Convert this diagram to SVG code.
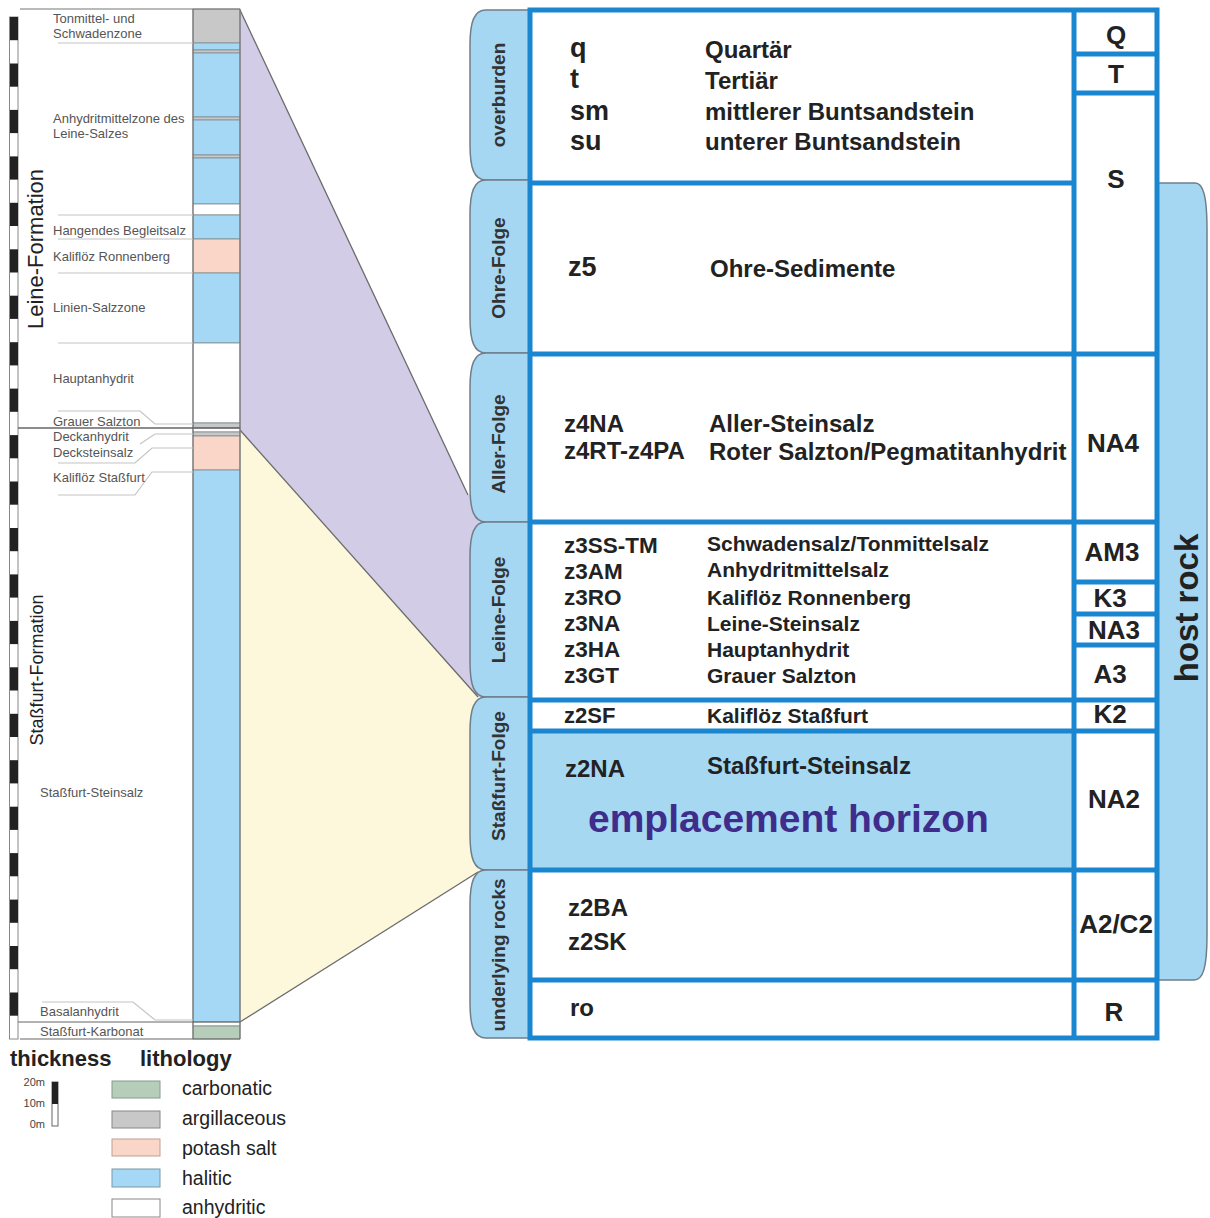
<svg xmlns="http://www.w3.org/2000/svg" width="1210" height="1218" viewBox="0 0 1210 1218">
<style>
.lbl{font-family:"Liberation Sans",Arial,sans-serif;font-size:13px;fill:#555}
.b{font-family:"Liberation Sans",Arial,sans-serif;font-weight:bold;fill:#222}
.tab{fill:#a5d7f2;stroke:#6f7f8a;stroke-width:1.5}
.tabt{font-family:"Liberation Sans",Arial,sans-serif;font-weight:bold;font-size:19px;fill:#333;text-anchor:middle}
.fr{stroke:#1a86d0;stroke-width:5;fill:none}
.guide{stroke:#c4c4c4;stroke-width:1.2;fill:none}
.lay{stroke:#808a90;stroke-width:0.8}
.hal{fill:#a5d8f5}.pot{fill:#f9d6c8}.arg{fill:#c8c8c8}.carb{fill:#b5cdb9}.anh{fill:#ffffff}
.leg{font-family:"Liberation Sans",Arial,sans-serif;font-size:19.5px;fill:#222}
.rc{font-family:"Liberation Sans",Arial,sans-serif;font-weight:bold;font-size:26px;fill:#222;text-anchor:middle}
</style>
<rect width="1210" height="1218" fill="#fff"/>

<!-- connectors (fans) -->
<g id="connectors">
  <polygon points="240,10 468,495 500,495 500,697 478,697 240,430" fill="#d2cce6" stroke="none"/>
  <polygon points="240,430 478,697 500,697 500,870 478,872 240,1022" fill="#fdf8dc" stroke="none"/>
  <polyline points="240,10 468,495" fill="none" stroke="#6b6b6b" stroke-width="1.3"/>
  <polyline points="240,430 478,697" fill="none" stroke="#6b6b6b" stroke-width="1.3"/>
  <polyline points="240,1022 478,872" fill="none" stroke="#6b6b6b" stroke-width="1.3"/>
</g>

<!-- scale bar -->
<g id="scale-bar">
  <rect x="9.5" y="17" width="8.5" height="1022" fill="#fff" stroke="#888" stroke-width="1"/>
  <g fill="#222">
    <rect x="10" y="17" width="8" height="23.2"/><rect x="10" y="63.5" width="8" height="23.2"/>
    <rect x="10" y="109.9" width="8" height="23.2"/><rect x="10" y="156.4" width="8" height="23.2"/>
    <rect x="10" y="202.8" width="8" height="23.2"/><rect x="10" y="249.3" width="8" height="23.2"/>
    <rect x="10" y="295.7" width="8" height="23.2"/><rect x="10" y="342.2" width="8" height="23.2"/>
    <rect x="10" y="388.6" width="8" height="23.2"/><rect x="10" y="435.1" width="8" height="23.2"/>
    <rect x="10" y="481.5" width="8" height="23.2"/><rect x="10" y="528" width="8" height="23.2"/>
    <rect x="10" y="574.4" width="8" height="23.2"/><rect x="10" y="620.9" width="8" height="23.2"/>
    <rect x="10" y="667.3" width="8" height="23.2"/><rect x="10" y="713.8" width="8" height="23.2"/>
    <rect x="10" y="760.2" width="8" height="23.2"/><rect x="10" y="806.7" width="8" height="23.2"/>
    <rect x="10" y="853.1" width="8" height="23.2"/><rect x="10" y="899.6" width="8" height="23.2"/>
    <rect x="10" y="946" width="8" height="23.2"/><rect x="10" y="992.5" width="8" height="23.2"/>
  </g>
</g>

<!-- lithology column -->
<g id="lithology-column">
  <rect class="arg lay" x="193" y="9" width="47" height="34"/>
  <rect class="hal lay" x="193" y="43" width="47" height="7"/>
  <rect class="arg lay" x="193" y="50" width="47" height="3"/>
  <rect class="hal lay" x="193" y="53" width="47" height="64"/>
  <rect class="arg lay" x="193" y="117" width="47" height="3"/>
  <rect class="hal lay" x="193" y="120" width="47" height="35"/>
  <rect class="arg lay" x="193" y="155" width="47" height="3"/>
  <rect class="hal lay" x="193" y="158" width="47" height="46"/>
  <rect class="anh lay" x="193" y="204" width="47" height="11"/>
  <rect class="hal lay" x="193" y="215" width="47" height="24"/>
  <rect class="pot lay" x="193" y="239" width="47" height="34"/>
  <rect class="hal lay" x="193" y="273" width="47" height="70"/>
  <rect class="anh lay" x="193" y="343" width="47" height="80"/>
  <rect class="arg lay" x="193" y="423" width="47" height="5"/>
  <rect class="anh lay" x="193" y="428" width="47" height="4"/>
  <rect class="arg lay" x="193" y="432" width="47" height="4"/>
  <rect class="pot lay" x="193" y="436" width="47" height="34"/>
  <rect class="hal lay" x="193" y="470" width="47" height="552"/>
  <rect class="anh lay" x="193" y="1022" width="47" height="4"/>
  <rect class="carb lay" x="193" y="1026" width="47" height="13"/>
  <line x1="193" y1="9" x2="193" y2="1039" stroke="#777" stroke-width="1.2"/>
  <line x1="240" y1="9" x2="240" y2="1039" stroke="#777" stroke-width="1.2"/>
  <line x1="20" y1="9" x2="240" y2="9" stroke="#777" stroke-width="1.2"/>
  <line x1="18" y1="428" x2="240" y2="428" stroke="#666" stroke-width="1.5"/>
  <line x1="18" y1="1022" x2="240" y2="1022" stroke="#666" stroke-width="1.2"/>
  <line x1="20" y1="1039" x2="240" y2="1039" stroke="#666" stroke-width="1.2"/>
</g>

<!-- left labels -->
<g id="left-labels">
  <g class="guide">
    <line x1="58" y1="43" x2="193" y2="43"/>
    <line x1="58" y1="215" x2="193" y2="215"/>
    <line x1="58" y1="239" x2="193" y2="239"/>
    <line x1="58" y1="273" x2="193" y2="273"/>
    <line x1="58" y1="343" x2="193" y2="343"/>
    <polyline points="58,411 140,411 155,424 193,424"/>
    <polyline points="140,444 155,434 193,434"/>
    <polyline points="58,463 135,463 152,448 193,448"/>
    <polyline points="58,495 135,495 152,472 193,472"/>
    <polyline points="42,1002 133,1002 155,1020 193,1020"/>
  </g>
  <text class="lbl" x="53" y="23">Tonmittel- und</text>
  <text class="lbl" x="53" y="38">Schwadenzone</text>
  <text class="lbl" x="53" y="123">Anhydritmittelzone des</text>
  <text class="lbl" x="53" y="138">Leine-Salzes</text>
  <text class="lbl" x="53" y="235">Hangendes Begleitsalz</text>
  <text class="lbl" x="53" y="261">Kaliflöz Ronnenberg</text>
  <text class="lbl" x="53" y="312">Linien-Salzzone</text>
  <text class="lbl" x="53" y="383">Hauptanhydrit</text>
  <text class="lbl" x="53" y="426">Grauer Salzton</text>
  <text class="lbl" x="53" y="441">Deckanhydrit</text>
  <text class="lbl" x="53" y="457">Decksteinsalz</text>
  <text class="lbl" x="53" y="482">Kaliflöz Staßfurt</text>
  <text class="lbl" x="40" y="797">Staßfurt-Steinsalz</text>
  <text class="lbl" x="40" y="1016">Basalanhydrit</text>
  <text class="lbl" x="40" y="1036">Staßfurt-Karbonat</text>
  <text x="43" y="249" transform="rotate(-90 43 249)" text-anchor="middle" font-family="Liberation Sans, Arial, sans-serif" font-size="22" fill="#222">Leine-Formation</text>
  <text x="43" y="670" transform="rotate(-90 43 670)" text-anchor="middle" font-family="Liberation Sans, Arial, sans-serif" font-size="18" fill="#222">Staßfurt-Formation</text>
</g>

<!-- legend -->
<g id="legend">
  <text class="b" x="10" y="1066" font-size="22">thickness</text>
  <text class="b" x="140" y="1066" font-size="22">lithology</text>
  <rect x="52" y="1082" width="6" height="44" fill="#fff" stroke="#666" stroke-width="1"/>
  <rect x="52" y="1082" width="6" height="22" fill="#222"/>
  <g font-family="Liberation Sans, Arial, sans-serif" font-size="11" fill="#444" text-anchor="end">
    <text x="45" y="1086">20m</text>
    <text x="45" y="1107">10m</text>
    <text x="45" y="1128">0m</text>
  </g>
  <rect class="carb" x="112" y="1081" width="48" height="17" stroke="#8a9a90" stroke-width="1"/>
  <rect class="arg" x="112" y="1111" width="48" height="17" stroke="#888" stroke-width="1"/>
  <rect class="pot" x="112" y="1139" width="48" height="17" stroke="#c0a090" stroke-width="1"/>
  <rect class="hal" x="112" y="1169" width="48" height="18" stroke="#7898a8" stroke-width="1"/>
  <rect class="anh" x="112" y="1199" width="48" height="18" stroke="#888" stroke-width="1"/>
  <text class="leg" x="182" y="1095">carbonatic</text>
  <text class="leg" x="182" y="1125">argillaceous</text>
  <text class="leg" x="182" y="1155">potash salt</text>
  <text class="leg" x="182" y="1185">halitic</text>
  <text class="leg" x="182" y="1214">anhydritic</text>
</g>

<!-- host rock tab -->
<g id="host-rock">
  <path class="tab" d="M1150,183 L1195,183 C1203,183 1207,195 1207,230 L1207,935 C1207,968 1203,980 1194,980 L1150,980 Z"/>
  <text class="b" x="1198" y="608" transform="rotate(-90 1198 608)" text-anchor="middle" font-size="33">host rock</text>
</g>

<!-- side tabs -->
<g id="tab-overburden">
  <path class="tab" d="M532,10 L486,10 C474,10 470,22 470,45 L470,145 C470,168 474,180 486,180 L532,180 Z"/>
  <text class="tabt" x="505" y="95" transform="rotate(-90 505 95)">overburden</text>
</g>
<g id="tab-ohre">
  <path class="tab" d="M532,180 L486,180 C474,180 470,192 470,215 L470,318 C470,341 474,353 486,353 L532,353 Z"/>
  <text class="tabt" x="505" y="268" transform="rotate(-90 505 268)">Ohre-Folge</text>
</g>
<g id="tab-aller">
  <path class="tab" d="M532,353 L486,353 C474,353 470,365 470,388 L470,487 C470,510 474,522 486,522 L532,522 Z"/>
  <text class="tabt" x="505" y="444" transform="rotate(-90 505 444)">Aller-Folge</text>
</g>
<g id="tab-leine">
  <path class="tab" d="M532,522 L486,522 C474,522 470,534 470,557 L470,662 C470,685 474,697 486,697 L532,697 Z"/>
  <text class="tabt" x="505" y="610" transform="rotate(-90 505 610)">Leine-Folge</text>
</g>
<g id="tab-stassfurt">
  <path class="tab" d="M532,697 L486,697 C474,697 470,709 470,732 L470,835 C470,858 474,870 486,870 L532,870 Z"/>
  <text class="tabt" x="505" y="776" transform="rotate(-90 505 776)">Staßfurt-Folge</text>
</g>
<g id="tab-underlying">
  <path class="tab" d="M532,870 L486,870 C474,870 470,882 470,905 L470,1003 C470,1026 474,1038 486,1038 L532,1038 Z"/>
  <text class="tabt" x="505" y="955" transform="rotate(-90 505 955)">underlying rocks</text>
</g>

<!-- main table -->
<g id="table-frame">
  <rect x="530" y="10" width="627" height="1028" fill="#fff"/>
  <rect x="530" y="731" width="544" height="139" fill="#a6d8f2"/>
  <rect class="fr" x="530" y="10" width="627" height="1028"/>
  <line class="fr" x1="1074" y1="10" x2="1074" y2="1038"/>
  <g class="fr">
    <line x1="530" y1="183" x2="1074" y2="183"/>
    <line x1="530" y1="354" x2="1157" y2="354"/>
    <line x1="530" y1="522" x2="1157" y2="522"/>
    <line x1="530" y1="700" x2="1157" y2="700"/>
    <line x1="530" y1="731" x2="1157" y2="731"/>
    <line x1="530" y1="870" x2="1157" y2="870"/>
    <line x1="530" y1="980" x2="1157" y2="980"/>
    <line x1="1074" y1="54" x2="1157" y2="54"/>
    <line x1="1074" y1="93" x2="1157" y2="93"/>
    <line x1="1074" y1="582" x2="1157" y2="582"/>
    <line x1="1074" y1="614" x2="1157" y2="614"/>
    <line x1="1074" y1="645" x2="1157" y2="645"/>
  </g>
</g>

<g id="row-overburden">
  <g class="b" font-size="27">
    <text x="570" y="57">q</text>
    <text x="570" y="88">t</text>
    <text x="570" y="120">sm</text>
    <text x="570" y="150">su</text>
  </g>
  <g class="b" font-size="24">
    <text x="705" y="58">Quartär</text>
    <text x="705" y="89">Tertiär</text>
    <text x="705" y="120">mittlerer Buntsandstein</text>
    <text x="705" y="150">unterer Buntsandstein</text>
  </g>
</g>
<g id="row-ohre">
  <text class="b" x="568" y="276" font-size="27">z5</text>
  <text class="b" x="710" y="277" font-size="24">Ohre-Sedimente</text>
</g>
<g id="row-aller">
  <g class="b" font-size="24">
    <text x="564" y="432">z4NA</text>
    <text x="564" y="459">z4RT-z4PA</text>
    <text x="709" y="432">Aller-Steinsalz</text>
    <text x="709" y="460">Roter Salzton/Pegmatitanhydrit</text>
  </g>
</g>
<g id="row-leine">
  <g class="b" font-size="22.5">
    <text x="564" y="553">z3SS-TM</text>
    <text x="564" y="579">z3AM</text>
    <text x="564" y="605">z3RO</text>
    <text x="564" y="631">z3NA</text>
    <text x="564" y="657">z3HA</text>
    <text x="564" y="683">z3GT</text>
  </g>
  <g class="b" font-size="21">
    <text x="707" y="551">Schwadensalz/Tonmittelsalz</text>
    <text x="707" y="577">Anhydritmittelsalz</text>
    <text x="707" y="605">Kaliflöz Ronnenberg</text>
    <text x="707" y="631">Leine-Steinsalz</text>
    <text x="707" y="657">Hauptanhydrit</text>
    <text x="707" y="683">Grauer Salzton</text>
  </g>
</g>
<g id="row-z2sf">
  <text class="b" x="564" y="723" font-size="22">z2SF</text>
  <text class="b" x="707" y="723" font-size="21">Kaliflöz Staßfurt</text>
</g>
<g id="row-z2na">
  <text class="b" x="565" y="777" font-size="24">z2NA</text>
  <text class="b" x="707" y="774" font-size="24">Staßfurt-Steinsalz</text>
  <text x="588" y="832" font-family="Liberation Sans, Arial, sans-serif" font-weight="bold" font-size="39" fill="#3f2d8c">emplacement horizon</text>
</g>
<g id="row-underlying">
  <text class="b" x="568" y="916" font-size="24">z2BA</text>
  <text class="b" x="568" y="950" font-size="24">z2SK</text>
  <text class="b" x="570" y="1016" font-size="24">ro</text>
</g>

<g id="right-codes">
  <text class="rc" x="1116" y="44">Q</text>
  <text class="rc" x="1116" y="83">T</text>
  <text class="rc" x="1116" y="188">S</text>
  <text class="rc" x="1113" y="452">NA4</text>
  <text class="rc" x="1112" y="561">AM3</text>
  <text class="rc" x="1110" y="607">K3</text>
  <text class="rc" x="1114" y="639">NA3</text>
  <text class="rc" x="1110" y="683">A3</text>
  <text class="rc" x="1110" y="723">K2</text>
  <text class="rc" x="1114" y="808">NA2</text>
  <text class="rc" x="1116" y="933">A2/C2</text>
  <text class="rc" x="1114" y="1021">R</text>
</g>
</svg>
